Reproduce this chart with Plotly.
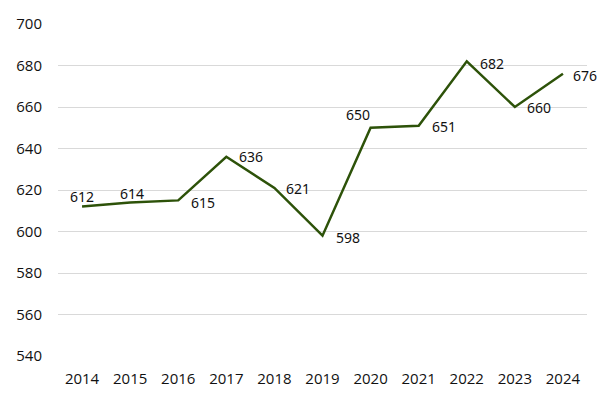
import plotly.graph_objects as go

years = ["2014", "2015", "2016", "2017", "2018", "2019", "2020", "2021", "2022", "2023", "2024"]
values = [612, 614, 615, 636, 621, 598, 650, 651, 682, 660, 676]
y_ticks = [540, 560, 580, 600, 620, 640, 660, 680, 700]

# label placement (anchor, x offset px, y offset px) per point
label_anchor = ["center", "center", "left", "left", "left", "left", "center", "left", "left", "left", "left"]
label_dx = [0, 2, 11, 11, 10, 11, -13, 11, 11, 10, 8]
label_dy = [10, 9, -2, 0, -1, -2, 13, -1, -2, 0, -2]

fig = go.Figure()
fig.add_trace(go.Scatter(
    x=years, y=values, mode="lines",
    line=dict(color="#2d5209", width=2.5),
    hoverinfo="skip",
))
for i, (v, a, dx, dy) in enumerate(zip(values, label_anchor, label_dx, label_dy)):
    fig.add_annotation(
        x=i, y=v, xref="x", yref="y", text=str(v), showarrow=False,
        xanchor=a, yanchor="middle", xshift=dx, yshift=dy,
        font=dict(family="Noto Sans", size=14, color="#111111"),
    )

fig.update_layout(
    width=599, height=392,
    margin=dict(l=50, r=20, t=16, b=44),
    paper_bgcolor="white", plot_bgcolor="white",
    showlegend=False,
    font=dict(family="Open Sans", size=15, color="#111111"),
)
fig.update_xaxes(type="category", range=[-0.5, 10.5], showgrid=False, showline=False,
                 ticks="", ticklabelstandoff=12, automargin=False)
fig.update_yaxes(range=[540, 700], tickvals=y_ticks, showgrid=True, gridcolor="#d9d9d9",
                 gridwidth=1, zeroline=False, showline=False, ticks="", ticklabelstandoff=15,
                 automargin=False)
fig.write_html("out.html")
